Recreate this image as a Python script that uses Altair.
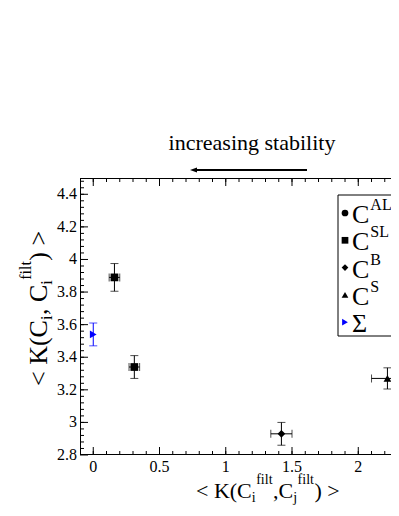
import altair as alt
import pandas as pd

# ---------------- data ----------------
series = ["SL", "SL", "B", "S", "Σ"]
x_vals = [0.16, 0.31, 1.42, 2.22, 0.0]
y_vals = [3.89, 3.34, 2.93, 3.27, 3.54]
x_err = [0.04, 0.04, 0.08, 0.12, 0.0]
y_err = [0.085, 0.07, 0.07, 0.065, 0.07]

legend_keys = ["AL", "SL", "B", "S", "Σ"]
legend_main = ["C", "C", "C", "C", "Σ"]
legend_sup = ["AL", "SL", "B", "S", ""]
legend_shapes = ["circle", "square", "diamond", "triangle-up", "triangle-right"]
legend_colors = ["black", "black", "black", "black", "blue"]

x_major = [0, 0.5, 1, 1.5, 2]
x_minor = [round(0.1 * i, 2) for i in range(0, 23)]
y_major = [round(2.8 + 0.2 * i, 2) for i in range(0, 9)]
y_minor = [round(2.8 + 0.04 * i, 2) for i in range(1, 43)]

annotation = "increasing stability"

# ---------------- layout ----------------
SERIF = "Liberation Serif"
W, H = 311, 277
X_DOMAIN = [-0.1, 2.247]
Y_DOMAIN = [2.8, 4.5]

df = pd.DataFrame({"series": series, "x": x_vals, "y": y_vals,
                   "xerr": x_err, "yerr": y_err})

xs = alt.Scale(domain=X_DOMAIN, nice=False, zero=False)
ys = alt.Scale(domain=Y_DOMAIN, nice=False, zero=False)


def X(field):
    return alt.X(field, type="quantitative", scale=xs, axis=None)


def Y(field):
    return alt.Y(field, type="quantitative", scale=ys, axis=None)


color_enc = alt.Color("series:N", scale=alt.Scale(domain=legend_keys, range=legend_colors), legend=None)
shape_enc = alt.Shape("series:N", scale=alt.Scale(domain=legend_keys, range=legend_shapes), legend=None)

base = alt.Chart(df).transform_calculate(
    ylo="datum.y - datum.yerr", yhi="datum.y + datum.yerr",
    xlo="datum.x - datum.xerr", xhi="datum.x + datum.xerr")

one = pd.DataFrame({"k": [0]})

# ---- frame ----
frame = [
    alt.Chart(one).mark_rule(color="black", strokeWidth=1).encode(
        x=alt.value(0.5), y=alt.value(0), y2=alt.value(H)),
    alt.Chart(one).mark_rule(color="black", strokeWidth=1).encode(
        x=alt.value(0), x2=alt.value(W + 2), y=alt.value(H - 0.5)),
    alt.Chart(one).mark_rule(color="black", strokeWidth=1).encode(
        x=alt.value(0), x2=alt.value(W + 2), y=alt.value(0.5)),
]


# ---- inward ticks and tick labels from the tick lists ----
def xticks(vals, y0, y1):
    return alt.Chart(pd.DataFrame({"v": vals})).mark_rule(color="black", strokeWidth=1).encode(
        x=X("v"), y=alt.value(y0), y2=alt.value(y1))


def yticks(vals, length):
    return alt.Chart(pd.DataFrame({"v": vals})).mark_rule(color="black", strokeWidth=1).encode(
        y=Y("v"), x=alt.value(0), x2=alt.value(length))


tick_layers = [
    xticks(x_major, H, H - 8), xticks(x_minor, H, H - 4),
    xticks(x_major, 0, 8), xticks(x_minor, 0, 4),
    yticks(y_major, 8), yticks(y_minor, 4),
]

xlabels = alt.Chart(pd.DataFrame({"v": x_major})).mark_text(
    font=SERIF, fontSize=16, color="black", align="center", baseline="top").encode(
    x=X("v"), y=alt.value(H + 4), text=alt.Text("v:Q", format="~g"))
ylabels = alt.Chart(pd.DataFrame({"v": y_major})).mark_text(
    font=SERIF, fontSize=16, color="black", align="right", baseline="middle").encode(
    y=Y("v"), x=alt.value(-3), text=alt.Text("v:Q", format="~g"))

# ---- error bars and points ----
err_v = base.mark_rule(strokeWidth=1).encode(x=X("x"), y=Y("ylo:Q"), y2="yhi:Q", color=color_enc)
cap_lo = base.mark_tick(orient="horizontal", size=8, thickness=1).encode(x=X("x"), y=Y("ylo:Q"), color=color_enc)
cap_hi = base.mark_tick(orient="horizontal", size=8, thickness=1).encode(x=X("x"), y=Y("yhi:Q"), color=color_enc)
hbase = base.transform_filter("datum.xerr > 0")
err_h = hbase.mark_rule(strokeWidth=1).encode(x=X("xlo:Q"), x2="xhi:Q", y=Y("y"), color=color_enc)
cap_l = hbase.mark_tick(orient="vertical", size=8, thickness=1).encode(x=X("xlo:Q"), y=Y("y"), color=color_enc)
cap_r = hbase.mark_tick(orient="vertical", size=8, thickness=1).encode(x=X("xhi:Q"), y=Y("y"), color=color_enc)
points = base.mark_point(filled=True, size=60, opacity=1).encode(
    x=X("x"), y=Y("y"), shape=shape_enc, color=color_enc)

# ---- text pieces (sub/superscripts) ----
TIMES = {"<": .564, ">": .564, " ": .25, "K": .722, "(": .333, ")": .333, "C": .667,
         ",": .25, "i": .278, "j": .278, "f": .333, "l": .278, "t": .278,
         "A": .722, "L": .611, "S": .556, "B": .667}


def tw(s, size):
    return sum(TIMES.get(c, 0.5) for c in s) * size


def pieces(parts, x0, y0, rotated=False):
    out = []
    off = 0
    for text, size, shift in parts:
        if rotated:
            px, py, ang = x0 + shift, y0 - off, 270
        else:
            px, py, ang = x0 + off, y0 + shift, 0
        out.append(alt.Chart(one).mark_text(
            text=text, font=SERIF, fontSize=size, align="left", baseline="alphabetic",
            angle=ang, color="black").encode(x=alt.value(px), y=alt.value(py)))
        off += tw(text, size) + (0.5 if size < 20 else 0)
    return out


xtitle = pieces([("< K(C", 22, 0), ("i", 14, 4), ("filt", 14, -14), (",C", 22, 0),
                 ("j", 14, 4), ("filt", 14, -14), (") >", 22, 0)], 116, 320)
ytitle = pieces([("< K(C", 26, 0), ("i", 16, 5), (", C", 26, 0), ("i", 16, 5),
                 ("filt", 16, -16), (") >", 26, 0)], -33, 208, rotated=True)

# ---- annotation above ----
ann_text = alt.Chart(one).mark_text(text=annotation, font=SERIF, fontSize=22, align="center",
                                    baseline="alphabetic", color="black").encode(
    x=alt.value(172), y=alt.value(-28))
ann_line = alt.Chart(one).mark_rule(strokeWidth=2, color="black").encode(
    x=alt.value(113), x2=alt.value(227), y=alt.value(-8))
ann_head = alt.Chart(one).mark_point(shape="M -1 0 L 1 -0.7 L 1 0.7 Z", size=49, filled=True,
                                     opacity=1, color="black").encode(
    x=alt.value(113.5), y=alt.value(-8))

# ---- legend ----
leg_box = alt.Chart(one).mark_rect(fill="white", stroke="black", strokeWidth=1).encode(
    x=alt.value(258), x2=alt.value(W + 20), y=alt.value(17), y2=alt.value(158))
leg = [leg_box]
for i, (m, s, shp, col) in enumerate(zip(legend_main, legend_sup, legend_shapes, legend_colors)):
    r = 35 + i * 27.3
    leg.append(alt.Chart(one).mark_point(shape=shp, filled=True, size=45, opacity=1, color=col)
               .encode(x=alt.value(265), y=alt.value(r)))
    leg.append(alt.Chart(one).mark_text(text=m, font=SERIF, fontSize=26, align="left",
                                        baseline="alphabetic", color="black")
               .encode(x=alt.value(272), y=alt.value(r + 10)))
    if s:
        leg.append(alt.Chart(one).mark_text(text=s, font=SERIF, fontSize=16, align="left",
                                            baseline="alphabetic", color="black")
                   .encode(x=alt.value(272 + tw("C", 26) + 1), y=alt.value(r - 3)))

layers = frame + tick_layers + [xlabels, ylabels,
                                err_v, cap_lo, cap_hi, err_h, cap_l, cap_r, points,
                                ann_text, ann_line, ann_head] + xtitle + ytitle + leg

chart = alt.layer(*layers).properties(
    width=W, height=H,
    autosize=alt.AutoSizeParams(type="none"),
    padding={"left": 72, "top": 170, "right": 0, "bottom": 53},
).configure_view(stroke=None)

chart.save("out.html", embed_options={"renderer": "svg", "actions": False})
